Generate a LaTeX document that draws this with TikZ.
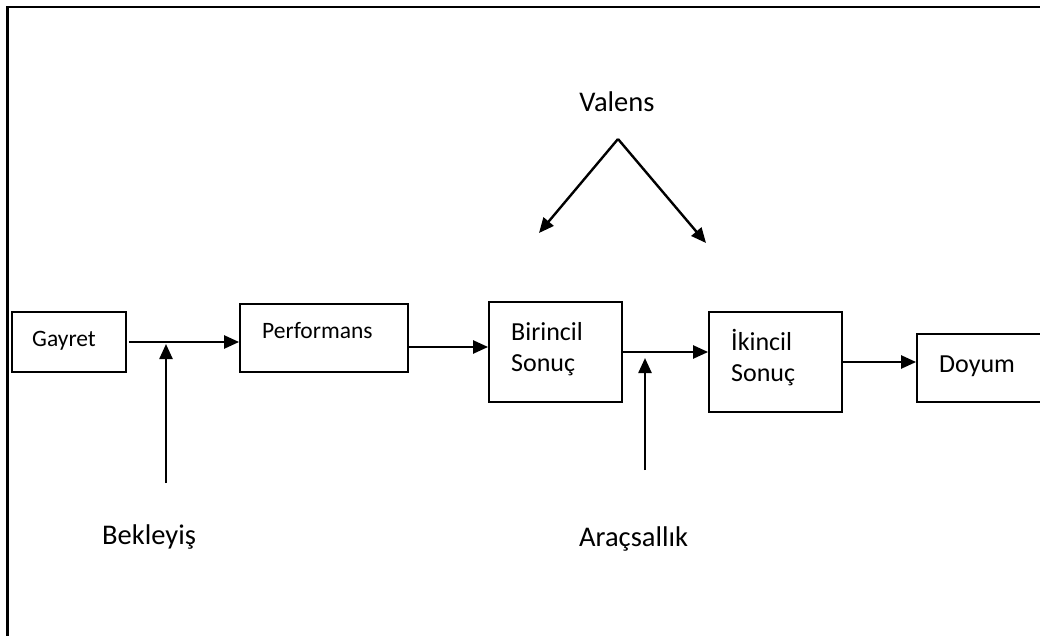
\documentclass[tikz,border=0pt]{standalone}
\usepackage{fontspec}
\setmainfont{Carlito}
\usetikzlibrary{arrows.meta,calc}

\begin{document}
\begin{tikzpicture}[x=1pt,y=-1pt,
  blk/.style={draw, line width=1.8pt, inner sep=0pt},
  conn/.style={line width=2.4pt, -{Triangle[length=15pt,width=13pt]}},
  smalltxt/.style={font=\fontsize{23.5}{28}\selectfont, inner sep=0pt, anchor=base west},
  boxtxt/.style={font=\fontsize{26}{31}\selectfont, inner sep=0pt, anchor=base west},
  labeltxt/.style={font=\fontsize{28.5}{34}\selectfont, inner sep=0pt, anchor=base}
]
\useasboundingbox (0,0) rectangle (1040,636);
\clip (0,0) rectangle (1040,636);

% outer frame
\draw[line width=2.4pt] (7.5,700) -- (7.5,7) -- (1100,7);

% boxes
\node[blk, minimum width=114pt, minimum height=60pt]  (gayret) at (69,342) {};
\node[blk, minimum width=168pt, minimum height=68pt]  (perf)   at (324,338) {};
\node[blk, minimum width=133pt, minimum height=100pt] (bir)    at (555.5,352) {};
\node[blk, minimum width=133pt, minimum height=100pt] (iki)    at (775.5,362) {};
\node[blk, minimum width=143pt, minimum height=68pt]  (doyum)  at (988.5,368) {};

% box texts
\node[smalltxt] (tgayret) at (32,346) {Gayret};
\node[smalltxt] (tperf)   at (262,338) {Performans};
\node[boxtxt]   (tbir1)   at (511,340) {Birincil};
\node[boxtxt]   (tbir2)   at (511,371) {Sonuç};
\node[boxtxt]   (tiki1)   at (731,350) {İkincil};
\node[boxtxt]   (tiki2)   at (731,381) {Sonuç};
\node[boxtxt]   (tdoyum)  at (939,372) {Doyum};

% free labels
\node[labeltxt] (valens) at (617,112) {Valens};
\node[labeltxt, anchor=base west] (bekleyis) at (102,544) {Bekleyiş};
\node[labeltxt, anchor=base west] (aracsallik) at (579,546) {Araçsallık};

% free arrow ends
\coordinate (vapex) at (618,139);
\coordinate (vleft) at (539,233);
\coordinate (vright) at (706,243);
\coordinate (bkfoot) at (166,483);
\coordinate (bktip) at (166,344);
\coordinate (arfoot) at (645,470);
\coordinate (artip) at (645,358);

% main chain
\draw[conn, shorten <=2pt] (gayret.east) -- (gayret.east -| perf.west);
\draw[conn] ($(perf.east)+(0,9)$) coordinate (pbout) -- (pbout -| bir.west);
\draw[conn] (bir.east) -- (bir.east -| iki.west);
\draw[conn] (iki.east) -- (iki.east -| doyum.west);

% influences
\draw[conn] (bkfoot) -- (bktip);
\draw[conn] (arfoot) -- (artip);
\draw[conn] (vapex) -- (vleft);
\draw[conn] (vapex) -- (vright);
\end{tikzpicture}
\end{document}
